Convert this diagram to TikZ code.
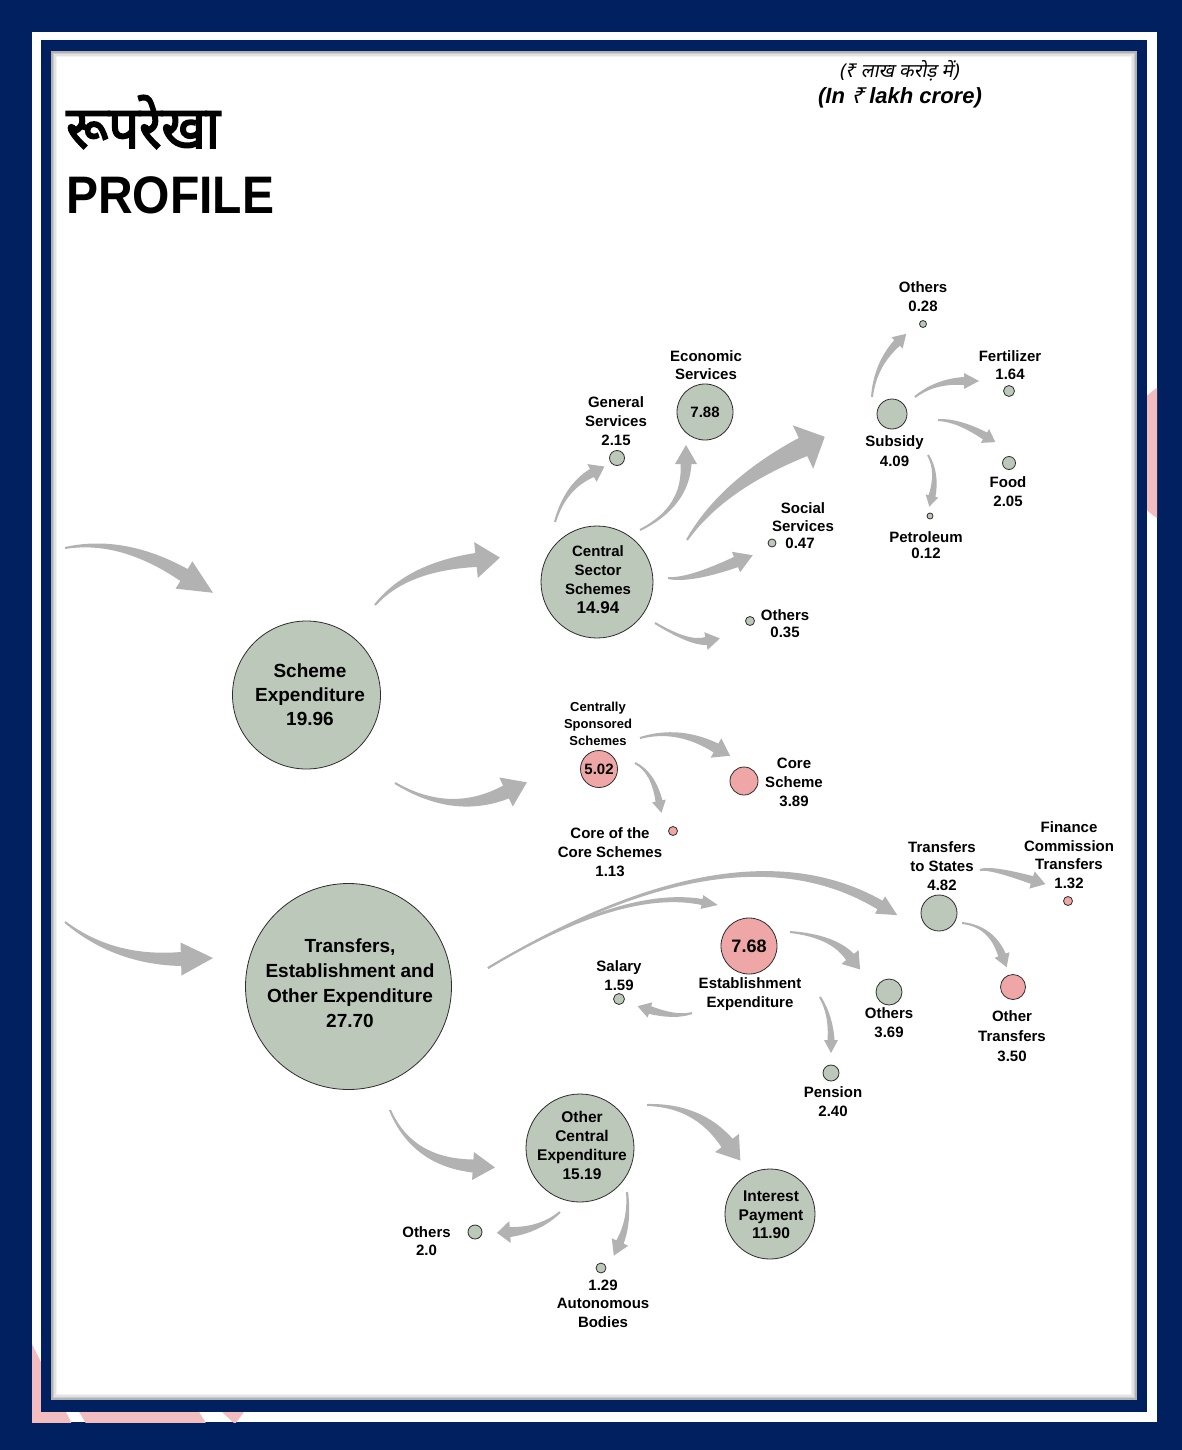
\documentclass[tikz,border=0pt]{standalone}
\usepackage{fontspec}
\setmainfont{Liberation Sans}
\newfontfamily\devfont[Script=Devanagari,FakeBold=3]{Noto Sans}
\newfontfamily\devsl[Script=Devanagari,FakeSlant=0.2]{Noto Sans}
\usetikzlibrary{calc}
\definecolor{navy}{RGB}{0,32,96}
\definecolor{gfill}{RGB}{188,200,186}
\definecolor{pfill}{RGB}{239,166,166}
\definecolor{cline}{RGB}{45,45,45}
\definecolor{agray}{RGB}{178,178,178}
\definecolor{pdeco}{RGB}{243,188,190}
\newcommand{\lbf}[2]{\fontsize{#1}{#2}\selectfont\bfseries}
\newcommand{\carrow}[6]{%
  \path ($(#1)!1pt!90:(#2)$) coordinate (q1)
        ($(#2)!#4/2!90:(#3)$) coordinate (q2)
        ($(#3)!#4!-90:(#2)$) coordinate (q3)
        ($(#1)!1pt!-90:(#2)$) coordinate (p1)
        ($(#2)!#4/2!-90:(#3)$) coordinate (p2)
        ($(#3)!#4!90:(#2)$) coordinate (p3);
  \fill[arrowfill] (q1) .. controls ($(q1)!0.667!(q2)$) and ($(q3)!0.667!(q2)$) .. (q3)
     -- ($(#3)!#5!-90:(#2)$) -- ($(#3)!-#6!(#2)$) -- ($(#3)!#5!90:(#2)$) -- (p3)
     .. controls ($(p3)!0.667!(p2)$) and ($(p1)!0.667!(p2)$) .. (p1) -- cycle;}
\begin{document}
\begin{tikzpicture}[x=1pt,y=-1pt,
  gdot/.style={circle,draw=cline,line width=0.8pt,fill=gfill,inner sep=0pt,minimum size=#1},
  pdot/.style={circle,draw=cline,line width=0.8pt,fill=pfill,inner sep=0pt,minimum size=#1},
  lbl/.style={align=center,inner sep=0pt,font=\lbf{15}{19}},
  slbl/.style={align=center,inner sep=0pt,font=\lbf{13}{17}},
  arrowfill/.style={fill=agray}]
\useasboundingbox (0,0) rectangle (1182,1450);
% frame
\fill[navy] (0,0) rectangle (1182,1450);
\fill[white] (32,32) rectangle (1157,1422);
\begin{scope}
  \clip (32,32) rectangle (1157,1422);
  \fill[pdeco] (1200,453) circle (78);
  \fill[pdeco] (0,1340) -- (30,1340) -- (75,1430) -- (0,1430) -- cycle;
  \fill[pdeco] (75,1405) -- (195,1405) -- (210,1430) -- (90,1430) -- cycle;
  \fill[pdeco] (222,1412) -- (244,1412) -- (235,1424) -- cycle;
\end{scope}
\fill[navy] (41,40) rectangle (1147,1412);
\fill[white] (51,51) rectangle (1137,1400);
\foreach \d/\o in {1/0.6,2.5/0.4,4/0.22,5.5/0.1}
  \draw[gray,opacity=\o,line width=1.6pt] (51+\d,51+\d) rectangle (1137-\d,1400-\d);
% titles
\node[anchor=base west,inner sep=0pt,font=\devfont\fontsize{56}{60}\selectfont] (titlehi) at (66,148) {\scalebox{0.97}[1.05]{रूपरेखा}};
\node[anchor=base west,inner sep=0pt,font=\lbf{48}{50}] (titleen) at (66,213) {\scalebox{1}[1.1]{PROFILE}};
\node[inner sep=0pt,font=\devsl\fontsize{19}{21}\selectfont] (unithi) at (899,71) {(₹ लाख करोड़ में)};
\node[inner sep=0pt,font=\fontsize{22}{24}\selectfont\bfseries\itshape] (uniten) at (900,98) {(In\;{\devsl\bfseries ₹}\;lakh crore)};
% circles
\node[gdot=148pt] (se) at (306.5,695) {};
\node[gdot=206pt] (tr) at (348.5,986.5) {};
\node[gdot=112pt] (css) at (597,582) {};
\node[gdot=56pt] (eco) at (705,412) {};
\node[gdot=15pt] (gen) at (617,458) {};
\node[gdot=8pt] (soc) at (772,543) {};
\node[gdot=9pt] (oth1) at (750,621) {};
\node[gdot=30pt] (sub) at (892,414) {};
\node[gdot=7pt] (oth2) at (923,324) {};
\node[gdot=11pt] (fer) at (1009,391) {};
\node[gdot=13pt] (food) at (1009,463) {};
\node[gdot=6pt] (pet) at (930,516) {};
\node[pdot=37pt] (cs) at (599,769) {};
\node[pdot=28pt] (core) at (744,781) {};
\node[pdot=9pt] (cc) at (673,831) {};
\node[gdot=36pt] (tts) at (939,913) {};
\node[pdot=9pt] (fin) at (1068,901) {};
\node[pdot=25pt] (otr) at (1013,987) {};
\node[pdot=56pt] (est) at (749,946) {};
\node[gdot=11pt] (sal) at (619,999) {};
\node[gdot=26pt] (oth3) at (889,992) {};
\node[gdot=16pt] (pen) at (831,1073) {};
\node[gdot=108pt] (oce) at (580,1148) {};
\node[gdot=90pt] (int) at (770,1214) {};
\node[gdot=14pt] (oth4) at (475,1232) {};
\node[gdot=10pt] (aut) at (601,1268) {};
% texts in circles
\node[align=center,inner sep=0pt,font=\lbf{19}{24}] (se-t) at (310,695) {Scheme\\Expenditure\\19.96};
\node[align=center,inner sep=0pt,font=\lbf{19}{25}] (tr-t) at (350,983) {Transfers,\\Establishment and\\Other Expenditure\\27.70};
\node[lbl] (css-t) at (598,580) {Central\\Sector\\Schemes\\{\lbf{17}{19}14.94}};
\node[lbl] (eco-t) at (eco) {7.88};
\node[lbl] (cs-t) at (cs) {5.02};
\node[align=center,inner sep=0pt,font=\lbf{18}{20}] (est-t) at (est) {7.68};
\node[align=center,inner sep=0pt,font=\lbf{15.5}{19}] (oce-t) at (582,1145) {Other\\Central\\Expenditure\\15.19};
\node[align=center,inner sep=0pt,font=\lbf{15.5}{18.5}] (int-t) at (771,1215) {Interest\\Payment\\11.90};
% labels
\node[lbl] (gen-l) at (616,421) {General\\Services\\2.15};
\node[lbl,font=\lbf{15}{18}] (eco-l) at (706,365) {Economic\\Services};
\node[lbl,font=\lbf{15}{18}] (soc-l) at (803,517) {Social\\Services};
\node[lbl] (soc-v) at (800,543) {0.47};
\node[lbl,font=\lbf{15}{17}] (oth1-l) at (785,623.5) {Others\\0.35};
\node[lbl] (oth2-l) at (923,296.5) {Others\\0.28};
\node[lbl,font=\lbf{15}{18}] (fer-l) at (1010,365) {Fertilizer\\1.64};
\node[lbl,font=\lbf{15}{20}] (sub-l) at (894.5,451) {Subsidy\\4.09};
\node[lbl] (food-l) at (1008,491.5) {Food\\2.05};
\node[lbl,font=\lbf{15}{16}] (pet-l) at (926,545) {Petroleum\\0.12};
\node[slbl] (cs-l) at (598,724) {Centrally\\Sponsored\\Schemes};
\node[lbl] (core-l) at (794,782) {Core\\Scheme\\3.89};
\node[lbl] (cc-l) at (610,852) {Core of the\\Core Schemes\\1.13};
\node[lbl] (tts-l) at (942,866) {Transfers\\to States\\4.82};
\node[lbl,font=\lbf{15}{18.7}] (fin-l) at (1069,855) {Finance\\Commission\\Transfers\\1.32};
\node[lbl,font=\lbf{15}{20}] (otr-l) at (1012,1036) {Other\\Transfers\\3.50};
\node[lbl] (est-l) at (750,994.5) {Establishment\\Expenditure};
\node[lbl] (sal-l) at (619,975.5) {Salary\\1.59};
\node[lbl] (oth3-l) at (889,1022.5) {Others\\3.69};
\node[lbl] (pen-l) at (833,1101.5) {Pension\\2.40};
\node[lbl,font=\lbf{15}{18}] (oth4-l) at (426.5,1241) {Others\\2.0};
\node[lbl,font=\lbf{15}{18.5}] (aut-l) at (603,1303.5) {1.29\\Autonomous\\Bodies};
% arrow geometry: tail, control, head base
\coordinate (a1t) at (65,548);   \coordinate (a1c) at (122,537);  \coordinate (a1h) at (184,575);
\coordinate (a2t) at (65,922);   \coordinate (a2c) at (114,961);  \coordinate (a2h) at (181,959);
\coordinate (a3t) at (375,605);  \coordinate (a3c) at (407,567);  \coordinate (a3h) at (476,560);
\coordinate (a4t) at (395,783);  \coordinate (a4c) at (452,817);  \coordinate (a4h) at (506,792);
\coordinate (a5t) at (555,522);  \coordinate (a5c) at (565,487);  \coordinate (a5h) at (592,473);
\coordinate (a6t) at (640,530);  \coordinate (a6c) at (686,507);  \coordinate (a6h) at (686,464);
\coordinate (a7t) at (687,540);  \coordinate (a7c) at (722,485);  \coordinate (a7h) at (803,447);
\coordinate (a8t) at (668,578);  \coordinate (a8c) at (689,581);  \coordinate (a8h) at (736,562);
\coordinate (a9t) at (655,623);  \coordinate (a9c) at (690,644);  \coordinate (a9h) at (706,641);
\coordinate (a10t) at (872,397); \coordinate (a10c) at (875,365); \coordinate (a10h) at (897,343);
\coordinate (a11t) at (915,397); \coordinate (a11c) at (935,381); \coordinate (a11h) at (964,381);
\coordinate (a12t) at (938,420); \coordinate (a12c) at (958,420); \coordinate (a12h) at (985,436);
\coordinate (a13t) at (928,455); \coordinate (a13c) at (938,472); \coordinate (a13h) at (932,496);
\coordinate (a14t) at (640,738); \coordinate (a14c) at (678,727); \coordinate (a14h) at (716,748);
\coordinate (a15t) at (635,763); \coordinate (a15c) at (653,772); \coordinate (a15h) at (659,801);
\coordinate (a16t) at (488,968); \coordinate (a16c) at (735,820); \coordinate (a16h) at (880,905);
\coordinate (a17t) at (488,968); \coordinate (a17c) at (623,887); \coordinate (a17h) at (702,902);
\coordinate (a18t) at (790,932); \coordinate (a18c) at (833,936); \coordinate (a18h) at (850,957);
\coordinate (a19t) at (692,1013); \coordinate (a19c) at (676,1018); \coordinate (a19h) at (650,1010);
\coordinate (a20t) at (820,997); \coordinate (a20c) at (831,1015); \coordinate (a20h) at (831,1040);
\coordinate (a21t) at (980,870); \coordinate (a21c) at (990,867); \coordinate (a21h) at (1032,880);
\coordinate (a22t) at (962,923); \coordinate (a22c) at (991,926); \coordinate (a22h) at (1002,955);
\coordinate (a23t) at (390,1110); \coordinate (a23c) at (412,1162); \coordinate (a23h) at (473,1166);
\coordinate (a24t) at (647,1105); \coordinate (a24c) at (698,1105); \coordinate (a24h) at (727,1143);
\coordinate (a25t) at (560,1212); \coordinate (a25c) at (540,1230); \coordinate (a25h) at (510,1232);
\coordinate (a26t) at (627,1192); \coordinate (a26c) at (630,1220); \coordinate (a26h) at (620,1242);
% arrows
\carrow{a1t}{a1c}{a1h}{7pt}{16pt}{34pt}
\carrow{a2t}{a2c}{a2h}{7pt}{16.5pt}{32pt}
\carrow{a3t}{a3c}{a3h}{7pt}{18pt}{24pt}
\carrow{a4t}{a4c}{a4h}{7pt}{16pt}{23pt}
\carrow{a5t}{a5c}{a5h}{4.5pt}{10pt}{14pt}
\carrow{a6t}{a6c}{a6h}{5.5pt}{11pt}{19pt}
\carrow{a7t}{a7c}{a7h}{10pt}{24pt}{24pt}
\carrow{a8t}{a8c}{a8h}{5.5pt}{11pt}{18pt}
\carrow{a9t}{a9c}{a9h}{4pt}{9pt}{14pt}
\carrow{a10t}{a10c}{a10h}{4pt}{8pt}{13pt}
\carrow{a11t}{a11c}{a11h}{4pt}{8pt}{15pt}
\carrow{a12t}{a12c}{a12h}{4pt}{8pt}{12pt}
\carrow{a13t}{a13c}{a13h}{3.5pt}{6.5pt}{11pt}
\carrow{a14t}{a14c}{a14h}{5pt}{11pt}{16pt}
\carrow{a15t}{a15c}{a15h}{3.5pt}{7pt}{12pt}
\carrow{a16t}{a16c}{a16h}{5pt}{10pt}{20pt}
\carrow{a17t}{a17c}{a17h}{3pt}{7pt}{16pt}
\carrow{a18t}{a18c}{a18h}{5pt}{11pt}{16pt}
\carrow{a19t}{a19c}{a19h}{4pt}{8pt}{13pt}
\carrow{a20t}{a20c}{a20h}{3.5pt}{7pt}{13pt}
\carrow{a21t}{a21c}{a21h}{4pt}{9pt}{14pt}
\carrow{a22t}{a22c}{a22h}{4pt}{8pt}{13pt}
\carrow{a23t}{a23c}{a23h}{6.5pt}{14pt}{22pt}
\carrow{a24t}{a24c}{a24h}{7pt}{15pt}{22pt}
\carrow{a25t}{a25c}{a25h}{5pt}{11pt}{13pt}
\carrow{a26t}{a26c}{a26h}{4pt}{9pt}{15pt}
\end{tikzpicture}
\end{document}
